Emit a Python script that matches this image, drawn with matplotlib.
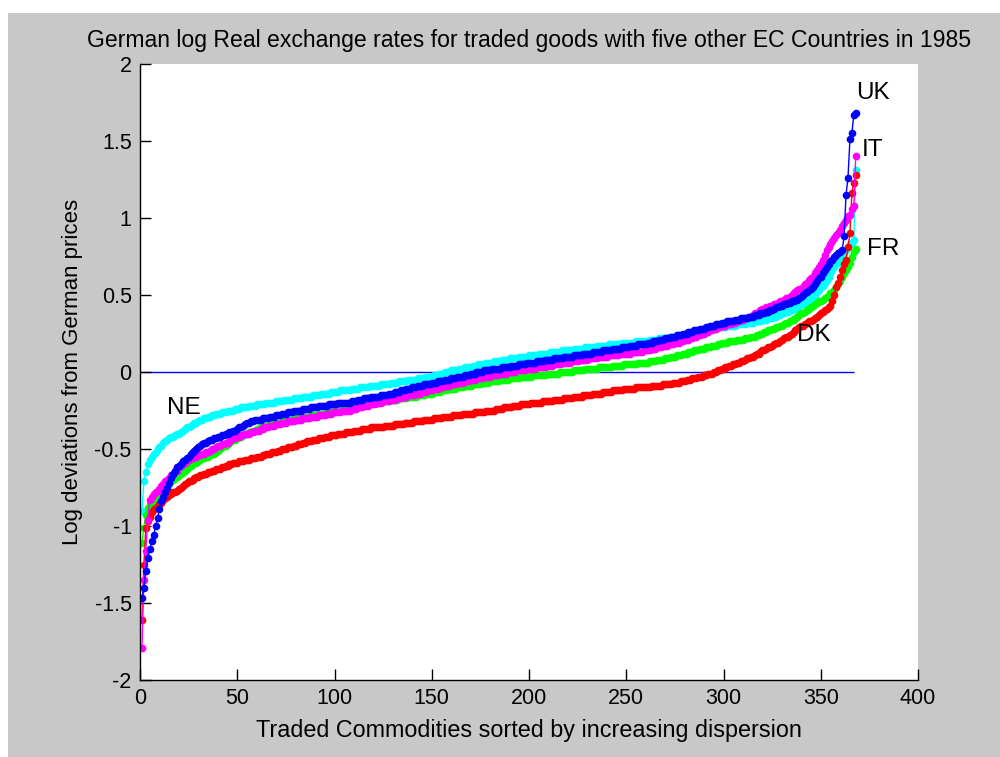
import numpy as np
import matplotlib
matplotlib.use("Agg")
import matplotlib.pyplot as plt
from matplotlib.patches import Rectangle

# log deviations from German prices, in hundredths, commodities sorted 1..N
ne_vals = [
    -90, -71, -65, -60, -57, -55, -53, -52, -50, -49, -48, -46, -45, -44, -43, -42, -42, -41, -40, -40,
    -39, -38, -37, -36, -36, -35, -34, -33, -33, -32, -31, -31, -30, -30, -29, -29, -28, -28, -27, -27,
    -27, -26, -26, -26, -25, -25, -25, -25, -24, -24, -24, -23, -23, -23, -23, -22, -22, -22, -22, -21,
    -21, -21, -21, -21, -20, -20, -20, -20, -20, -19, -19, -19, -19, -18, -18, -18, -18, -18, -17, -17,
    -17, -17, -17, -16, -16, -16, -16, -16, -15, -15, -15, -15, -14, -14, -14, -14, -14, -13, -13, -13,
    -13, -13, -12, -12, -12, -12, -12, -12, -11, -11, -11, -11, -10, -10, -10, -10, -10, -9, -9, -9,
    -9, -9, -9, -8, -8, -8, -8, -8, -7, -7, -7, -7, -6, -6, -6, -6, -6, -5, -5, -5,
    -5, -5, -4, -4, -4, -4, -3, -3, -3, -3, -2, -2, -2, -1, -1, -1, 0, 0, 0, 1,
    1, 1, 1, 2, 2, 2, 3, 3, 3, 3, 4, 4, 4, 5, 5, 5, 5, 6, 6, 6,
    6, 7, 7, 7, 7, 8, 8, 8, 8, 9, 9, 9, 9, 9, 10, 10, 10, 10, 10, 11,
    11, 11, 11, 11, 12, 12, 12, 12, 12, 12, 13, 13, 13, 13, 13, 13, 14, 14, 14, 14,
    14, 14, 15, 15, 15, 15, 15, 15, 16, 16, 16, 16, 16, 16, 17, 17, 17, 17, 17, 17,
    18, 18, 18, 18, 18, 18, 18, 19, 19, 19, 19, 19, 19, 19, 20, 20, 20, 20, 20, 20,
    20, 21, 21, 21, 21, 21, 22, 22, 22, 22, 22, 23, 23, 23, 23, 23, 24, 24, 24, 24,
    25, 25, 25, 25, 26, 26, 26, 26, 27, 27, 27, 27, 28, 28, 28, 28, 29, 29, 29, 29,
    29, 30, 30, 30, 30, 30, 31, 31, 31, 31, 31, 32, 32, 32, 32, 33, 33, 33, 33, 34,
    34, 34, 35, 35, 35, 36, 36, 37, 37, 38, 38, 39, 39, 40, 40, 41, 41, 42, 43, 44,
    44, 45, 46, 47, 48, 49, 50, 52, 53, 55, 56, 58, 60, 62, 64, 66, 68, 70, 71, 73,
    75, 77, 79, 81, 83, 84, 86, 131,
]

uk_vals = [
    -147, -140, -129, -121, -115, -110, -106, -100, -95, -89, -84, -81, -78, -75, -72, -69, -66, -64, -62, -61,
    -60, -58, -57, -56, -55, -53, -52, -51, -50, -49, -48, -47, -46, -46, -45, -44, -44, -43, -43, -42,
    -42, -41, -41, -40, -40, -39, -39, -38, -38, -37, -36, -36, -35, -34, -33, -33, -32, -32, -31, -31,
    -31, -31, -30, -30, -30, -30, -29, -29, -29, -28, -28, -28, -27, -27, -27, -26, -26, -26, -25, -25,
    -25, -25, -25, -24, -24, -24, -24, -23, -23, -23, -23, -22, -22, -22, -22, -22, -21, -21, -21, -21,
    -21, -20, -20, -20, -20, -20, -20, -20, -19, -19, -19, -18, -18, -18, -17, -17, -17, -17, -16, -16,
    -16, -16, -16, -15, -15, -15, -15, -14, -14, -14, -13, -13, -13, -12, -12, -12, -11, -11, -11, -10,
    -10, -10, -9, -9, -9, -8, -8, -8, -8, -7, -7, -7, -6, -6, -6, -6, -5, -5, -5, -4,
    -4, -4, -3, -3, -3, -3, -2, -2, -2, -1, -1, -1, 0, 0, 0, 0, 1, 1, 1, 1,
    2, 2, 2, 2, 2, 3, 3, 3, 3, 3, 4, 4, 4, 4, 5, 5, 5, 5, 6, 6,
    6, 6, 6, 7, 7, 7, 7, 8, 8, 8, 8, 8, 9, 9, 9, 9, 9, 10, 10, 10,
    10, 10, 11, 11, 11, 11, 11, 12, 12, 12, 12, 12, 13, 13, 13, 13, 13, 14, 14, 14,
    14, 14, 15, 15, 15, 15, 15, 16, 16, 16, 16, 17, 17, 17, 17, 18, 18, 18, 18, 18,
    19, 19, 19, 20, 20, 20, 21, 21, 21, 22, 22, 22, 23, 23, 23, 24, 24, 24, 25, 25,
    25, 26, 26, 26, 27, 27, 27, 28, 28, 28, 29, 29, 30, 30, 30, 31, 31, 31, 32, 32,
    32, 33, 33, 33, 33, 34, 34, 34, 35, 35, 35, 35, 36, 36, 36, 37, 37, 37, 38, 38,
    38, 39, 39, 40, 40, 41, 42, 42, 43, 43, 44, 44, 45, 45, 46, 46, 47, 47, 48, 49,
    50, 51, 52, 53, 54, 55, 57, 59, 61, 62, 64, 66, 68, 70, 72, 73, 75, 76, 77, 78,
    79, 88, 115, 126, 151, 155, 167, 168,
]

it_vals = [
    -179, -135, -116, -96, -83, -81, -79, -78, -77, -76, -74, -73, -71, -70, -69, -67, -66, -65, -64, -62,
    -61, -60, -59, -58, -57, -56, -56, -55, -55, -54, -54, -53, -53, -52, -52, -51, -50, -50, -49, -48,
    -48, -47, -47, -46, -46, -45, -44, -43, -43, -42, -42, -41, -41, -40, -40, -40, -39, -39, -38, -38,
    -38, -37, -37, -36, -36, -36, -35, -35, -35, -34, -34, -34, -33, -33, -33, -32, -32, -32, -32, -31,
    -31, -31, -31, -30, -30, -30, -30, -29, -29, -29, -29, -28, -28, -28, -28, -27, -27, -27, -26, -26,
    -26, -26, -26, -25, -25, -25, -25, -25, -24, -24, -24, -23, -23, -23, -22, -22, -22, -21, -21, -21,
    -21, -20, -20, -20, -19, -19, -19, -19, -18, -18, -18, -17, -17, -17, -16, -16, -16, -15, -15, -15,
    -15, -14, -14, -14, -13, -13, -13, -12, -12, -12, -11, -11, -11, -10, -10, -10, -9, -9, -9, -8,
    -8, -8, -7, -7, -7, -7, -6, -6, -6, -5, -5, -5, -4, -4, -4, -4, -3, -3, -3, -3,
    -2, -2, -2, -2, -1, -1, -1, -1, 0, 0, 0, 0, 0, 1, 1, 1, 1, 1, 2, 2,
    2, 2, 2, 3, 3, 3, 3, 3, 4, 4, 4, 4, 5, 5, 5, 5, 6, 6, 6, 6,
    6, 7, 7, 7, 7, 8, 8, 8, 8, 8, 9, 9, 9, 9, 9, 10, 10, 10, 10, 10,
    11, 11, 11, 11, 11, 11, 12, 12, 12, 12, 12, 12, 13, 13, 13, 13, 13, 13, 14, 14,
    14, 14, 15, 15, 15, 16, 16, 16, 17, 17, 17, 18, 18, 18, 19, 19, 19, 20, 20, 21,
    21, 21, 22, 22, 23, 23, 24, 24, 25, 25, 26, 26, 27, 27, 28, 28, 29, 29, 30, 30,
    30, 31, 31, 31, 32, 32, 33, 33, 34, 34, 35, 35, 36, 36, 37, 38, 38, 39, 40, 41,
    41, 42, 42, 43, 43, 44, 44, 45, 46, 46, 47, 48, 48, 49, 50, 51, 52, 53, 54, 54,
    55, 57, 58, 60, 61, 62, 64, 66, 68, 70, 73, 76, 79, 81, 83, 85, 87, 89, 90, 92,
    95, 97, 99, 101, 102, 106, 108, 140,
]

fr_vals = [
    -111, -101, -93, -88, -86, -85, -83, -82, -81, -80, -78, -77, -76, -74, -73, -71, -70, -69, -68, -67,
    -66, -65, -64, -63, -62, -61, -60, -59, -59, -58, -57, -56, -56, -55, -55, -54, -53, -53, -52, -51,
    -50, -49, -48, -48, -47, -46, -45, -44, -44, -43, -42, -42, -41, -40, -40, -39, -39, -38, -38, -37,
    -37, -36, -36, -35, -35, -35, -34, -34, -34, -33, -33, -33, -32, -32, -32, -31, -31, -31, -30, -30,
    -30, -30, -30, -29, -29, -29, -29, -28, -28, -28, -28, -27, -27, -27, -27, -26, -26, -26, -25, -25,
    -25, -25, -25, -24, -24, -24, -24, -24, -23, -23, -23, -22, -22, -22, -21, -21, -21, -21, -20, -20,
    -20, -20, -20, -19, -19, -19, -19, -19, -18, -18, -18, -18, -17, -17, -17, -17, -17, -16, -16, -16,
    -16, -16, -15, -15, -15, -15, -14, -14, -14, -14, -13, -13, -13, -13, -12, -12, -12, -12, -11, -11,
    -11, -11, -10, -10, -10, -10, -9, -9, -9, -9, -8, -8, -8, -8, -8, -7, -7, -7, -7, -6,
    -6, -6, -6, -6, -5, -5, -5, -5, -5, -4, -4, -4, -4, -4, -4, -3, -3, -3, -3, -3,
    -3, -2, -2, -2, -2, -2, -2, -2, -1, -1, -1, -1, -1, -1, -1, 0, 0, 0, 0, 0,
    0, 0, 1, 1, 1, 1, 1, 1, 2, 2, 2, 2, 2, 2, 2, 3, 3, 3, 3, 3,
    3, 3, 4, 4, 4, 4, 4, 4, 5, 5, 5, 5, 5, 5, 5, 6, 6, 6, 6, 6,
    6, 7, 7, 7, 7, 8, 8, 8, 8, 9, 9, 9, 10, 10, 10, 11, 11, 11, 12, 12,
    12, 13, 13, 13, 14, 14, 14, 15, 15, 15, 16, 16, 16, 17, 17, 17, 18, 18, 19, 19,
    19, 19, 20, 20, 20, 20, 21, 21, 21, 21, 22, 22, 22, 23, 23, 23, 24, 24, 25, 25,
    26, 26, 27, 27, 28, 28, 29, 29, 30, 30, 31, 32, 32, 33, 34, 34, 35, 36, 37, 38,
    38, 39, 40, 41, 42, 43, 44, 45, 46, 46, 47, 48, 49, 50, 51, 52, 53, 55, 57, 59,
    62, 64, 66, 68, 71, 75, 78, 80,
]

dk_vals = [
    -161, -125, -101, -97, -94, -91, -89, -88, -87, -86, -85, -83, -82, -81, -80, -79, -78, -78, -77, -76,
    -75, -74, -73, -72, -71, -71, -70, -69, -68, -68, -67, -67, -66, -66, -65, -65, -64, -64, -63, -63,
    -63, -62, -62, -61, -61, -60, -60, -59, -59, -59, -58, -58, -58, -57, -57, -57, -56, -56, -56, -55,
    -55, -55, -54, -54, -53, -53, -53, -52, -52, -52, -51, -51, -50, -50, -50, -49, -49, -49, -48, -48,
    -47, -47, -47, -46, -46, -45, -45, -45, -44, -44, -44, -43, -43, -43, -42, -42, -42, -41, -41, -41,
    -41, -40, -40, -40, -40, -39, -39, -39, -39, -38, -38, -38, -38, -37, -37, -37, -37, -37, -36, -36,
    -36, -36, -36, -36, -36, -35, -35, -35, -35, -35, -34, -34, -34, -34, -34, -33, -33, -33, -33, -33,
    -32, -32, -32, -32, -32, -31, -31, -31, -31, -31, -30, -30, -30, -30, -30, -29, -29, -29, -29, -29,
    -28, -28, -28, -28, -28, -27, -27, -27, -27, -27, -27, -26, -26, -26, -26, -26, -26, -25, -25, -25,
    -25, -25, -24, -24, -24, -24, -23, -23, -23, -23, -23, -22, -22, -22, -22, -21, -21, -21, -21, -21,
    -20, -20, -20, -20, -20, -20, -19, -19, -19, -19, -19, -19, -18, -18, -18, -18, -18, -17, -17, -17,
    -17, -17, -16, -16, -16, -16, -16, -15, -15, -15, -15, -15, -14, -14, -14, -14, -14, -13, -13, -13,
    -13, -13, -12, -12, -12, -12, -12, -12, -11, -11, -11, -11, -11, -11, -10, -10, -10, -10, -10, -10,
    -10, -10, -9, -9, -9, -9, -9, -9, -8, -8, -8, -8, -8, -7, -7, -7, -7, -6, -6, -6,
    -5, -5, -5, -4, -4, -4, -3, -3, -3, -2, -2, -1, -1, -1, 0, 0, 1, 1, 2, 2,
    3, 3, 4, 4, 5, 5, 6, 6, 7, 7, 8, 9, 9, 10, 10, 11, 12, 12, 13, 14,
    14, 15, 16, 16, 17, 18, 19, 19, 20, 21, 22, 23, 23, 24, 25, 26, 27, 28, 29, 30,
    30, 31, 32, 33, 33, 34, 35, 36, 37, 38, 39, 40, 41, 42, 43, 46, 50, 55, 58, 62,
    66, 70, 73, 81, 90, 116, 123, 128,
]

# drawing order: later series sit on top
series = [
    ("NE", ne_vals, "#00ffff"),
    ("FR", fr_vals, "#00ff00"),
    ("DK", dk_vals, "#ff0000"),
    ("IT", it_vals, "#ff00ff"),
    ("UK", uk_vals, "#0000ff"),
]

# country tags placed beside the curves (x, y in data units)
tag_names = ["UK", "IT", "FR", "DK", "NE"]
tag_x = [368, 371, 374, 338, 14]
tag_y = [1.81, 1.44, 0.80, 0.24, -0.235]

x_ticks = [0, 50, 100, 150, 200, 250, 300, 350, 400]
y_ticks = [-2, -1.5, -1, -0.5, 0, 0.5, 1, 1.5, 2]
y_tick_labels = ["-2", "-1.5", "-1", "-0.5", "0", "0.5", "1", "1.5", "2"]

plt.rcParams["font.family"] = ["Liberation Sans", "DejaVu Sans"]
plt.rcParams["axes.unicode_minus"] = False

fig = plt.figure(figsize=(10, 7.57), dpi=100, facecolor="white")
# grey window background
fig.patches.append(Rectangle((0.008, 0.0), 0.992, 1 - 13 / 757,
                             transform=fig.transFigure, facecolor="#c8c8c8",
                             edgecolor="none", zorder=-10))

ax = fig.add_axes([0.14, 1 - 680 / 757, 0.778, 616 / 757])
ax.set_facecolor("white")

n_max = 0
for name, vals, color in series:
    v = np.array(vals) / 100.0
    xs = np.arange(1, len(v) + 1)
    n_max = max(n_max, len(v))
    ax.plot(xs, v, "-", color=color, lw=1.0, marker=".", ms=11,
            markeredgewidth=0, label=name)

ax.hlines(0, 0, n_max - 1, colors="#0000ff", lw=1.0, zorder=1)

for t, tx, ty in zip(tag_names, tag_x, tag_y):
    ax.text(tx, ty, t, fontsize=17.5, ha="left", va="center", color="black")

ax.set_xlim(0, 400)
ax.set_ylim(-2, 2)
ax.set_xticks(x_ticks)
ax.set_xticklabels([str(t) for t in x_ticks])
ax.set_yticks(y_ticks)
ax.set_yticklabels(y_tick_labels)
ax.tick_params(direction="in", length=8, width=1, labelsize=15.5, pad=6)

for side in ["top", "right"]:
    ax.spines[side].set_visible(False)
for side in ["left", "bottom"]:
    ax.spines[side].set_linewidth(1.0)

ax.set_title("German log Real exchange rates for traded goods with five other EC Countries in 1985",
             fontsize=16.6, pad=12)
ax.set_xlabel("Traded Commodities sorted by increasing dispersion", fontsize=16.8, labelpad=7)
ax.set_ylabel("Log deviations from German prices", fontsize=16, labelpad=8)

fig.savefig("out.png", dpi=100, facecolor=fig.get_facecolor())
